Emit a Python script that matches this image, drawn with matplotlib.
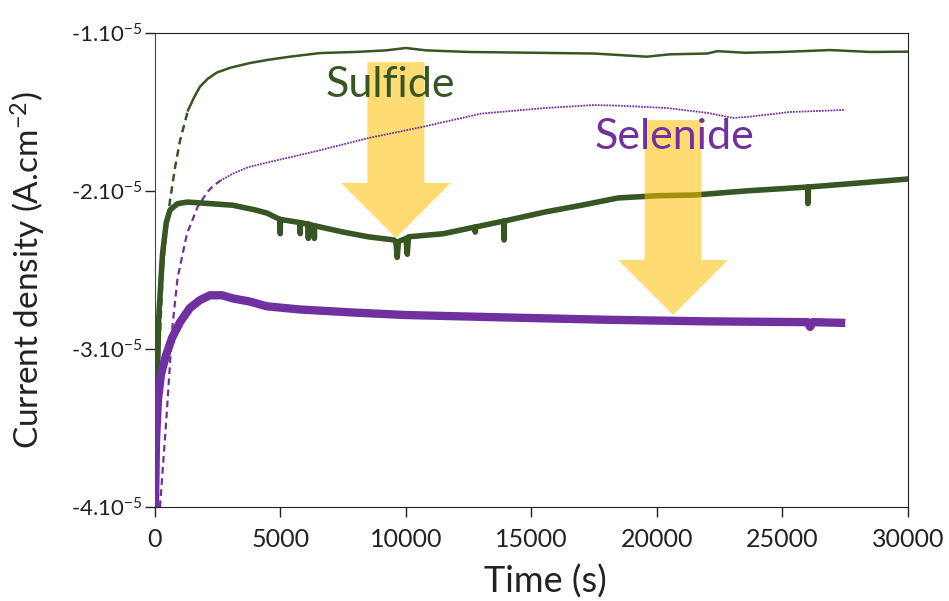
import numpy as np
import matplotlib.pyplot as plt
from matplotlib.patches import Polygon

plt.rcParams['font.family'] = ['Lato', 'DejaVu Sans']
plt.rcParams['mathtext.fontset'] = 'custom'
plt.rcParams['mathtext.rm'] = 'Lato'
plt.rcParams['mathtext.it'] = 'Lato'

# DATA (time in s, current density in A/cm2)
# sulfide, thin curve (early part dashed)
sulf_thin_t_dash = [100, 200, 320, 450, 600, 800, 1000, 1315]
sulf_thin_v_dash = [-3.2e-5, -2.9e-5, -2.48e-5, -2.25e-5, -2.06e-5, -1.85e-5, -1.68e-5, -1.49e-5]
sulf_thin_t = [1315, 1550, 1793, 2100, 2470, 3000, 3785, 4500, 5378, 6574, 8000, 9200, 10000,
               10800, 12500, 15000, 17500, 19600, 20500, 22000, 22400, 23500, 25000, 26900,
               28500, 30000]
sulf_thin_v = [-1.49e-5, -1.41e-5, -1.34e-5, -1.29e-5, -1.25e-5, -1.22e-5, -1.19e-5, -1.17e-5,
               -1.15e-5, -1.127e-5, -1.12e-5, -1.11e-5, -1.095e-5, -1.11e-5, -1.12e-5, -1.125e-5,
               -1.13e-5, -1.15e-5, -1.135e-5, -1.13e-5, -1.115e-5, -1.125e-5, -1.12e-5,
               -1.108e-5, -1.12e-5, -1.118e-5]

# sulfide, thick curve (with the downward spikes)
sulf_thick_t = [30, 80, 150, 300, 450, 600, 900, 1300, 2200, 3100, 4000, 4462, 4980, 4990, 5000,
                5777, 5787, 5797, 6100, 6110, 6120, 6340, 6350, 6360, 7500, 8500, 9520, 9600,
                9650, 9700, 10000, 10050, 10100, 11500, 12750, 12760, 12770, 13900, 13910, 13920,
                15540, 17000, 18450, 20000, 21550, 23500, 26000, 26010, 26020, 28000, 30000]
sulf_thick_v = [-3.6e-5, -3.3e-5, -2.8e-5, -2.4e-5, -2.2e-5, -2.12e-5, -2.08e-5, -2.07e-5,
                -2.08e-5, -2.09e-5, -2.12e-5, -2.14e-5, -2.18e-5, -2.27e-5, -2.18e-5,
                -2.2e-5, -2.27e-5, -2.2e-5, -2.21e-5, -2.3e-5, -2.21e-5, -2.22e-5, -2.3e-5,
                -2.22e-5, -2.26e-5, -2.29e-5, -2.31e-5, -2.32e-5, -2.42e-5, -2.32e-5, -2.3e-5,
                -2.4e-5, -2.29e-5, -2.27e-5, -2.228e-5, -2.26e-5, -2.228e-5, -2.19e-5,
                -2.31e-5, -2.19e-5, -2.133e-5, -2.09e-5, -2.044e-5, -2.03e-5, -2.025e-5,
                -2.0e-5, -1.975e-5, -2.08e-5, -1.975e-5, -1.95e-5, -1.924e-5]

# selenide, thin curve (early part dashed)
sel_thin_t_dash = [200, 450, 700, 900, 1275, 1700, 2072, 2300, 2600]
sel_thin_v_dash = [-4.0e-5, -3.45e-5, -2.85e-5, -2.55e-5, -2.27e-5, -2.1e-5, -2.01e-5, -1.97e-5,
                   -1.935e-5]
sel_thin_t = [2600, 3108, 3700, 4462, 5777, 6500, 8500, 10637, 13000, 15538, 17490, 18500, 20398,
              22032, 23028, 23665, 25300, 27500]
sel_thin_v = [-1.935e-5, -1.89e-5, -1.85e-5, -1.82e-5, -1.772e-5, -1.745e-5, -1.665e-5,
              -1.595e-5, -1.51e-5, -1.475e-5, -1.456e-5, -1.46e-5, -1.475e-5, -1.506e-5,
              -1.538e-5, -1.53e-5, -1.5e-5, -1.487e-5]

# selenide, thick curve
sel_thick_t = [0, 40, 120, 240, 440, 680, 1000, 1394, 1800, 2190, 2670, 3108, 3785, 4462, 5777,
               8000, 10000, 13900, 18000, 22000, 26000, 26100, 26200, 27500]
sel_thick_v = [-4.0e-5, -3.58e-5, -3.32e-5, -3.16e-5, -3.04e-5, -2.93e-5, -2.83e-5, -2.74e-5,
               -2.69e-5, -2.66e-5, -2.66e-5, -2.68e-5, -2.70e-5, -2.73e-5, -2.75e-5, -2.77e-5,
               -2.785e-5, -2.8e-5, -2.815e-5, -2.825e-5, -2.83e-5, -2.86e-5, -2.83e-5,
               -2.835e-5]

y_ticks = [-4e-5, -3e-5, -2e-5, -1e-5]
y_tick_labels = ["-4.10$^{-5}$", "-3.10$^{-5}$", "-2.10$^{-5}$", "-1.10$^{-5}$"]
x_ticks = [0, 5000, 10000, 15000, 20000, 25000, 30000]

# arrows: (tip x, shaft top y, head base y, tip y)
arrow_sulfide = (9600, -1.184e-5, -1.949e-5, -2.297e-5)
arrow_selenide = (20640, -1.551e-5, -2.437e-5, -2.785e-5)

green = "#375623"
purple = "#7030a0"
gold = "#ffc000"


def arrow_poly(tip_x, top_y, base_y, tip_y, shaft_w=2270, head_w=4380):
    return [(tip_x - shaft_w / 2, top_y), (tip_x + shaft_w / 2, top_y),
            (tip_x + shaft_w / 2, base_y), (tip_x + head_w / 2, base_y),
            (tip_x, tip_y), (tip_x - head_w / 2, base_y),
            (tip_x - shaft_w / 2, base_y)]


fig = plt.figure(figsize=(9.49, 6.01), dpi=100)
ax = fig.add_axes([0.1633, 0.1564, 0.7935, 0.7887])

ax.plot(sulf_thin_t_dash, sulf_thin_v_dash, color=green, lw=1.8, ls=(0, (3, 2)), zorder=3)
ax.plot(sulf_thin_t, sulf_thin_v, color=green, lw=1.8, zorder=3)
ax.plot(sel_thin_t_dash, sel_thin_v_dash, color=purple, lw=1.6, ls=(0, (3, 2)), zorder=3)
ax.plot(sel_thin_t, sel_thin_v, color=purple, lw=1.3, ls=(0, (1, 0.6)), zorder=3)
ax.plot(sulf_thick_t, sulf_thick_v, color=green, lw=4, zorder=3)
ax.plot(sel_thick_t, sel_thick_v, color=purple, lw=6, solid_capstyle="butt", zorder=3)

ax.add_patch(Polygon(arrow_poly(*arrow_sulfide), closed=True, fc=gold, ec="none",
                     alpha=0.55, zorder=2))
ax.add_patch(Polygon(arrow_poly(*arrow_selenide), closed=True, fc=gold, ec="none",
                     alpha=0.55, zorder=4))

ax.text(6810, -1.405e-5, "Sulfide", color=green, fontsize=31, zorder=5)
ax.text(17530, -1.735e-5, "Selenide", color=purple, fontsize=31, zorder=5)

ax.set_xlim(0, 30000)
ax.set_ylim(-4e-5, -1e-5)
ax.set_xticks(x_ticks)
ax.set_xticklabels([str(t) for t in x_ticks])
ax.set_yticks(y_ticks)
ax.set_yticklabels(y_tick_labels)
ax.tick_params(axis="both", direction="out", length=7, width=1, colors="#222222")
ax.tick_params(axis="x", pad=8, labelsize=18)
ax.tick_params(axis="y", pad=2, labelsize=16)

ax.spines["left"].set_color(green)
for s in ["top", "right", "bottom"]:
    ax.spines[s].set_color("#222222")

ax.set_xlabel("Time (s)", fontsize=26, color="#222222")
ax.xaxis.set_label_coords(0.518, -0.122)
ax.set_ylabel("Current density (A.cm$^{-2}$)", fontsize=24, color="#222222")
ax.yaxis.set_label_coords(-0.142, 0.5)

fig.savefig("out.png", dpi=100)
